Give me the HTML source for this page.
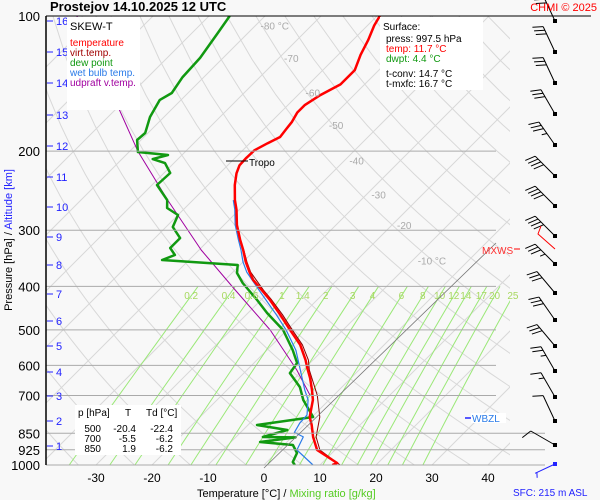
<!DOCTYPE html>
<html><head><meta charset="utf-8"><style>
html,body{margin:0;padding:0;background:#f8f8f8;}
svg{display:block;font-family:"Liberation Sans",sans-serif;}
</style></head><body>
<svg id="c" width="600" height="500" viewBox="0 0 600 500">
<rect x="0" y="0" width="600" height="500" fill="#f8f8f8"/>
<defs><clipPath id="pc"><rect x="46" y="16" width="464" height="449"/></clipPath></defs>
<g id="grid" clip-path="url(#pc)"></g>
<g id="lines" clip-path="url(#pc)"></g>
<g id="ann"></g>
</svg>
<script>
// ---- data ----
const tempP=[100,105,113,122,132,142,150,158,164,172,179,186,192,199,207,215,224,238,257,270,292,315,332,353,372,387,408,429,463,500,540,584,608,640,681,716,782,815,866,926,990,1000];
const tempT=[-59.5,-58.8,-57.3,-56,-54.3,-54.3,-56,-57,-57,-56.3,-56,-55.7,-56.8,-57.9,-58,-57.9,-57,-55.2,-52.5,-50.5,-47.7,-44.5,-42.1,-39.5,-37,-35,-31.6,-28.4,-23.9,-19.5,-15,-11.3,-9.6,-7.3,-4.8,-2.9,-0.4,1.4,3.75,6.8,12.7,12.2];
const dewP=[100,109.1,124,136.8,148.4,153.8,167.9,182.2,188.9,200.9,204,208.3,212.6,223.7,237.9,257,267.7,277.5,295,312.3,328.7,340.7,349.5,358.6,373.6,393.3,429,458.6,500.4,554.5,592.7,624.1,670.5,716.4,781.7,814.5,835.6,866.2,868,888.8,902.6,940.5,984.7,1000];
const dewT=[-86.3,-85.4,-84.1,-83.8,-82.9,-83.8,-82.5,-80.5,-80.7,-78.4,-72.5,-74.5,-71.6,-68.9,-69.1,-64.6,-63.2,-60,-58.8,-55.5,-55.5,-53.4,-54.8,-40.4,-39.1,-36.3,-30.7,-26.6,-20.7,-15.4,-12.3,-11.8,-7.5,-4.6,0.2,-8.4,-2.1,-5.2,0.7,-4.8,1.6,3.75,4.6,5.5];
const wetP=[257,270,292,315,332,353,372,408,463,500,555,614,681,716,774,807,846,866,926,1000];
const wetT=[-52.8,-50.8,-48,-44.8,-42.5,-40,-37.5,-32.1,-24.6,-20.2,-14.8,-10.5,-6.1,-3.75,-1.25,-1.1,-0.4,2,3.2,8.75];
const virtP=[332,353,372,408,429,463,500,540,584,614,700,782,866,926,1000];
const virtT=[-42,-39.3,-36.8,-31.3,-28.1,-23.5,-19.1,-14.6,-10.8,-8.9,-2.9,1.4,4.3,7.3,13.6];
const updP=[100,152.3,199.9,257,332,407.6,500.4,614.5,698.5];
const updT=[-113.6,-92.3,-78.6,-64.5,-49.6,-36.4,-23,-11.1,-4.3];
const windP=[102.6,120,141,165,194,227,265,309,357,414,476,544,619,706,796,900,995];
const windDir=[335,335,335,330,325,315,315,315,315,320,325,320,330,330,335,300,245];
const windSpd=[30,30,30,30,35,40,40,40,35,30,30,30,25,15,10,10,5];
const pLevels=[100,200,300,400,500,600,700,850,925,1000];
const xTicks=[-30,-20,-10,0,10,20,30,40];
const kmTicks=[1,2,3,4,5,6,7,8,9,10,11,12,13,14,15,16];
const kmY=[446,421,396,372,346,321,294,265,237,207,177,146,115,83,52,21];
const mixR=[0.2,0.4,0.6,1,1.4,2,3,4,6,8,10,12,14,17,20,25];
const isoLab=[-80,-70,-60,-50,-40,-30,-20,-10];
// ---- axes ----
const NS='http://www.w3.org/2000/svg';
function yP(p){return 16+449*Math.log10(p/100);}
function xT(T,p){return 264+5.6*T+(465-yP(p));}
function mk(tag,attrs,parent){const e=document.createElementNS(NS,tag);for(const k in attrs)e.setAttribute(k,attrs[k]);parent.appendChild(e);return e;}
const grid=document.getElementById('grid'),lines=document.getElementById('lines'),ann=document.getElementById('ann'),svg=document.getElementById('c');
function poly(P,T,stroke,w,parent,name){
  let d='';for(let i=0;i<P.length;i++)d+=(i?'L':'M')+xT(T[i],P[i]).toFixed(1)+','+yP(P[i]).toFixed(1);
  const e=mk('path',{d:d,fill:'none',stroke:stroke,'stroke-width':w,'stroke-linejoin':'round'},parent);
  
  
  return e;}
function txt(x,y,s,fill,size,anchor,parent,name){const e=mk('text',{x:x,y:y,fill:fill,'font-size':size,'text-anchor':anchor||'start'},parent||ann);e.textContent=s;
  
  
  return e;}
// isotherms
for(let T=-130;T<=50;T+=10){const e=mk('line',{x1:xT(T,1000),y1:465,x2:xT(T,100),y2:16,stroke:'#d8d8d8','stroke-width':1},grid);
  
  }
// dry adiabats
for(let th=230;th<=480;th+=10){const P=[],T=[];for(let p=1000;p>=100;p-=25){P.push(p);T.push(th*Math.pow(p/1000,0.286)-273.15);}poly(P,T,'#d8d8d8',1,grid,'dry-adiabat');}
// mixing ratio lines
function tdW(w,p){const e=w*p/(622+w);const l=Math.log(e/6.112);return 243.5*l/(17.67-l);}
mixR.forEach(w=>{const P=[],T=[];for(let p=1000;p>=400;p-=50){P.push(p);T.push(tdW(w,p));}poly(P,T,'#9be878',1,grid,'mixing-ratio-line');
  txt(xT(tdW(w,420),420),299,String(w),'#a8d860',10,'middle',ann,'mixing-ratio-label');});
// isobars
pLevels.forEach(p=>{const y=yP(p);const x2=p>=850?545:(p==100?591:496);const e=mk('line',{x1:46,y1:y,x2:x2,y2:y,stroke:p==100?'#000':'#aaa','stroke-width':1},ann);
  
  
  txt(40,y+5,String(p),'#000',13,'end',ann,'pressure-tick-label');});
// zero line to MXWS
{const e=mk('line',{x1:264,y1:468,x2:496,y2:243,stroke:'#777','stroke-width':0.8},ann);}
// y axis line
{const e=mk('line',{x1:46,y1:16,x2:46,y2:465,stroke:'#000','stroke-width':1.5},ann);}
// km ticks
kmTicks.forEach((k,i)=>{const e=mk('line',{x1:47,y1:kmY[i],x2:53,y2:kmY[i],stroke:'#22f','stroke-width':1},ann);
  
  
  txt(56,kmY[i]+4,String(k),'#22f',11,'start',ann,'altitude-tick-label');});
xTicks.forEach(t=>txt(264+5.6*t,482,String(t),'#000',12,'middle',ann,'x-tick-label'));
isoLab.forEach(t=>{const p=[105,124,148,175,210,250,292,350][isoLab.indexOf(t)];txt(xT(t,p)+5,yP(p)+4,t==-80||t==-10?t+' °C':String(t),'#aaa',10,'start',ann,'isotherm-label');});
// series
poly(virtP,virtT,'#8b0000',1,lines,'virtual-temperature-line');
poly(updP,updT,'#a000a0',1,lines,'updraft-virtual-temperature-line');
poly(dewP,dewT,'#119911',2.5,lines,'dew-point-line');
poly(wetP,wetT,'#2a7be8',1.2,lines,'wet-bulb-line');
poly(tempP,tempT,'#ff0000',2.5,lines,'temperature-line');
// wind barbs
windP.forEach((p,i)=>{
  const y=[21,52,83,114,145,176,206,236,264,293,320,346,371,397,421,445,464][i];
  const d=windDir[i]*Math.PI/180,ux=Math.sin(d),uy=-Math.cos(d);
  const col=i==windP.length-1?'#22f':'#000';
  const L=i==windP.length-1?22:28;
  const x0=555,tx=x0+ux*L,ty=y+uy*L;
  const g=mk('g',{},ann);
  
  
  mk('line',{x1:x0,y1:y,x2:tx,y2:ty,stroke:col,'stroke-width':1},g);
  mk('rect',{x:x0-2,y:y-2,width:4,height:4,fill:col},g);
  const px=uy,py=-ux;
  let s=windSpd[i],k=0;
  while(s>=10){const bx=tx-ux*k*4,by=ty-uy*k*4;mk('line',{x1:bx,y1:by,x2:bx+px*10+ux*4,y2:by+py*10+uy*4,stroke:col,'stroke-width':1},g);s-=10;k++;}
  if(s>=5){const bx=tx-ux*(k+0.5)*4,by=ty-uy*(k+0.5)*4;mk('line',{x1:bx,y1:by,x2:bx+px*5+ux*2,y2:by+py*5+uy*2,stroke:col,'stroke-width':1},g);}
});
// boxes
function box(x,y,w,h,name){const e=mk('rect',{x:x,y:y,width:w,height:h,fill:'#fff'},ann);}
box(67,17,73,93,'legend-box');
txt(70,30,'SKEW-T','#000',11,'start',ann,'legend-title');
txt(70,46,'temperature','#ff0000',10,'start',ann,'legend-entry');
txt(70,56,'virt.temp.','#a00000',10,'start',ann,'legend-entry');
txt(70,66,'dew point','#119911',10,'start',ann,'legend-entry');
txt(70,76,'wet bulb temp.','#2a7be8',10,'start',ann,'legend-entry');
txt(70,86,'udpraft v.temp.','#a000a0',10,'start',ann,'legend-entry');
box(380,17,103,73,'surface-box');
txt(383,30,'Surface:','#000',10,'start',ann,'surface-title');
txt(386,42,'press: 997.5 hPa','#000',10,'start',ann,'surface-press');
txt(386,52,'temp: 11.7 °C','#ff0000',10,'start',ann,'surface-temp');
txt(386,62,'dwpt: 4.4 °C','#119911',10,'start',ann,'surface-dwpt');
txt(386,77,'t-conv: 14.7 °C','#000',10,'start',ann,'surface-tconv');
txt(386,87,'t-mxfc: 16.7 °C','#000',10,'start',ann,'surface-tmxfc');
box(75,405,106,50,'level-table-box');
txt(78,416,'p [hPa]','#000',10,'start',ann,'table-header');
txt(125,416,'T','#000',10,'start',ann,'table-header');
txt(146,416,'Td [°C]','#000',10,'start',ann,'table-header');
[['500','-20.4','-22.4'],['700','-5.5','-6.2'],['850','1.9','-6.2']].forEach((r,i)=>{const y=432+i*10;
  txt(101,y,r[0],'#000',10,'end',ann,'table-cell');txt(136,y,r[1],'#000',10,'end',ann,'table-cell');txt(173,y,r[2],'#000',10,'end',ann,'table-cell');});
// tropo
{const e=mk('line',{x1:226,y1:161,x2:248,y2:161,stroke:'#000','stroke-width':1},ann);}
txt(249,166,'Tropo','#000',10,'start',ann,'tropopause-label');
txt(482,254,'MXWS','#ff3030',10,'start',ann,'mxws-label');
{const e=mk('line',{x1:514,y1:249,x2:520,y2:249,stroke:'#f00','stroke-width':1},ann);}
{const e=mk('path',{d:'M555,249 L538,234 L541,226',fill:'none',stroke:'#f00','stroke-width':1},ann);}
box(471,413,35,10,'wbzl-box');
txt(472,422,'WBZL','#2a7be8',10,'start',ann,'wbzl-label');
{const e=mk('line',{x1:465,y1:418,x2:471,y2:418,stroke:'#22f','stroke-width':1.5},ann);}
txt(50,11,'Prostejov    14.10.2025 12 UTC','#000',13,'start',ann,'chart-title').setAttribute('font-weight','bold');
txt(597,11,'CHMI © 2025','#ff0000',11,'end',ann,'copyright');
txt(513,496,'SFC: 215 m ASL','#22f',10,'start',ann,'surface-elevation');
{const t=txt(197,497,'Temperature [°C]  /  ','#000',11,'start',ann,'x-axis-title');const s=mk('tspan',{fill:'#55cc22'},t);s.textContent='Mixing ratio [g/kg]';}
{const t=txt(0,0,'Pressure [hPa]  /  ','#000',11,'middle',ann,'y-axis-title');t.setAttribute('transform','translate(12,240) rotate(-90)');const s=mk('tspan',{fill:'#22f'},t);s.textContent='Altitude [km]';}
</script>
</body></html>
